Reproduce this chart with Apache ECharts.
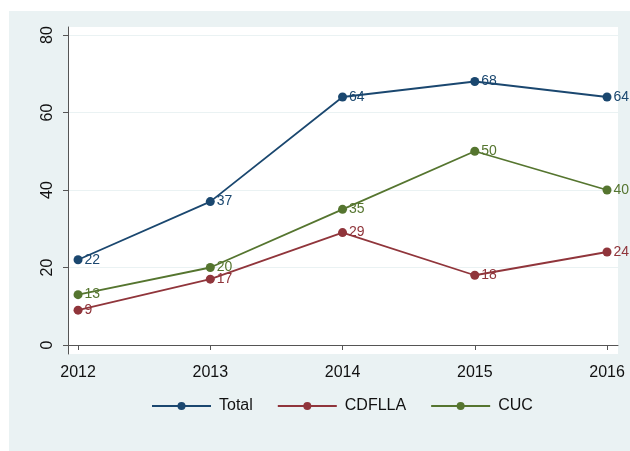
<!DOCTYPE html>
<html><head><meta charset="utf-8">
<script src="https://cdn.jsdelivr.net/npm/echarts@6/dist/echarts.min.js"></script>
<style>html,body{margin:0;padding:0;background:#fff}#c{width:630px;height:451px}</style>
</head><body><div id="c"></div>
<script>
const years = [2012, 2013, 2014, 2015, 2016];
const total = [22, 37, 64, 68, 64];
const cdflla = [9, 17, 29, 18, 24];
const cuc = [13, 20, 35, 50, 40];
const yTicks = [0, 20, 40, 60, 80];
const seriesNames = ['Total', 'CDFLLA', 'CUC'];
const colors = ['#1a476f', '#90353b', '#55752f'];

const chart = echarts.init(document.getElementById('c'));
const font = 'Liberation Sans, Arial, sans-serif';
function mk(name, vals, color) {
  return {
    name: name, type: 'line',
    data: years.map((y, i) => [y, vals[i]]),
    symbol: 'circle', symbolSize: 9,
    lineStyle: {color: color, width: 1.8},
    itemStyle: {color: color},
    label: {show: true, position: 'right', distance: 2, color: color, fontSize: 14, fontFamily: font,
      formatter: p => String(p.value[1])}
  };
}
chart.setOption({
  backgroundColor: '#ffffff',
  animation: false,
  color: colors,
  graphic: [{type: 'rect', left: 9, top: 11, shape: {width: 621, height: 440}, style: {fill: '#eaf2f3'}, z: -10, silent: true}],
  grid: {left: 68, right: 12, top: 27, bottom: 97, show: true, backgroundColor: '#ffffff', borderWidth: 0},
  xAxis: {
    type: 'value', min: 2011.924, max: 2016.083,
    axisLine: {show: true, lineStyle: {color: '#555', width: 1}},
    axisTick: {show: true, length: 5, customValues: years, lineStyle: {color: '#555'}},
    axisLabel: {customValues: years, formatter: v => String(v), color: '#111', fontSize: 16, fontFamily: font, margin: 11},
    splitLine: {show: false}
  },
  yAxis: {
    type: 'value', min: -2.32, max: 82.06,
    axisLine: {show: true, lineStyle: {color: '#555', width: 1}},
    axisTick: {show: true, length: 5, customValues: yTicks, lineStyle: {color: '#555'}},
    axisLabel: {customValues: yTicks, rotate: 90, color: '#111', fontSize: 16, fontFamily: font, margin: 12},
    splitLine: {show: true, lineStyle: {color: '#eaf2f3', width: 1}}
  },
  legend: {
    left: 146, top: 393, itemWidth: 59, itemHeight: 10, itemGap: 24,
    data: seriesNames,
    textStyle: {fontSize: 16, fontFamily: font, color: '#111', padding: [0, 0, 0, 3]}
  },
  series: [mk(seriesNames[0], total, colors[0]), mk(seriesNames[1], cdflla, colors[1]), mk(seriesNames[2], cuc, colors[2])]
});
</script></body></html>
